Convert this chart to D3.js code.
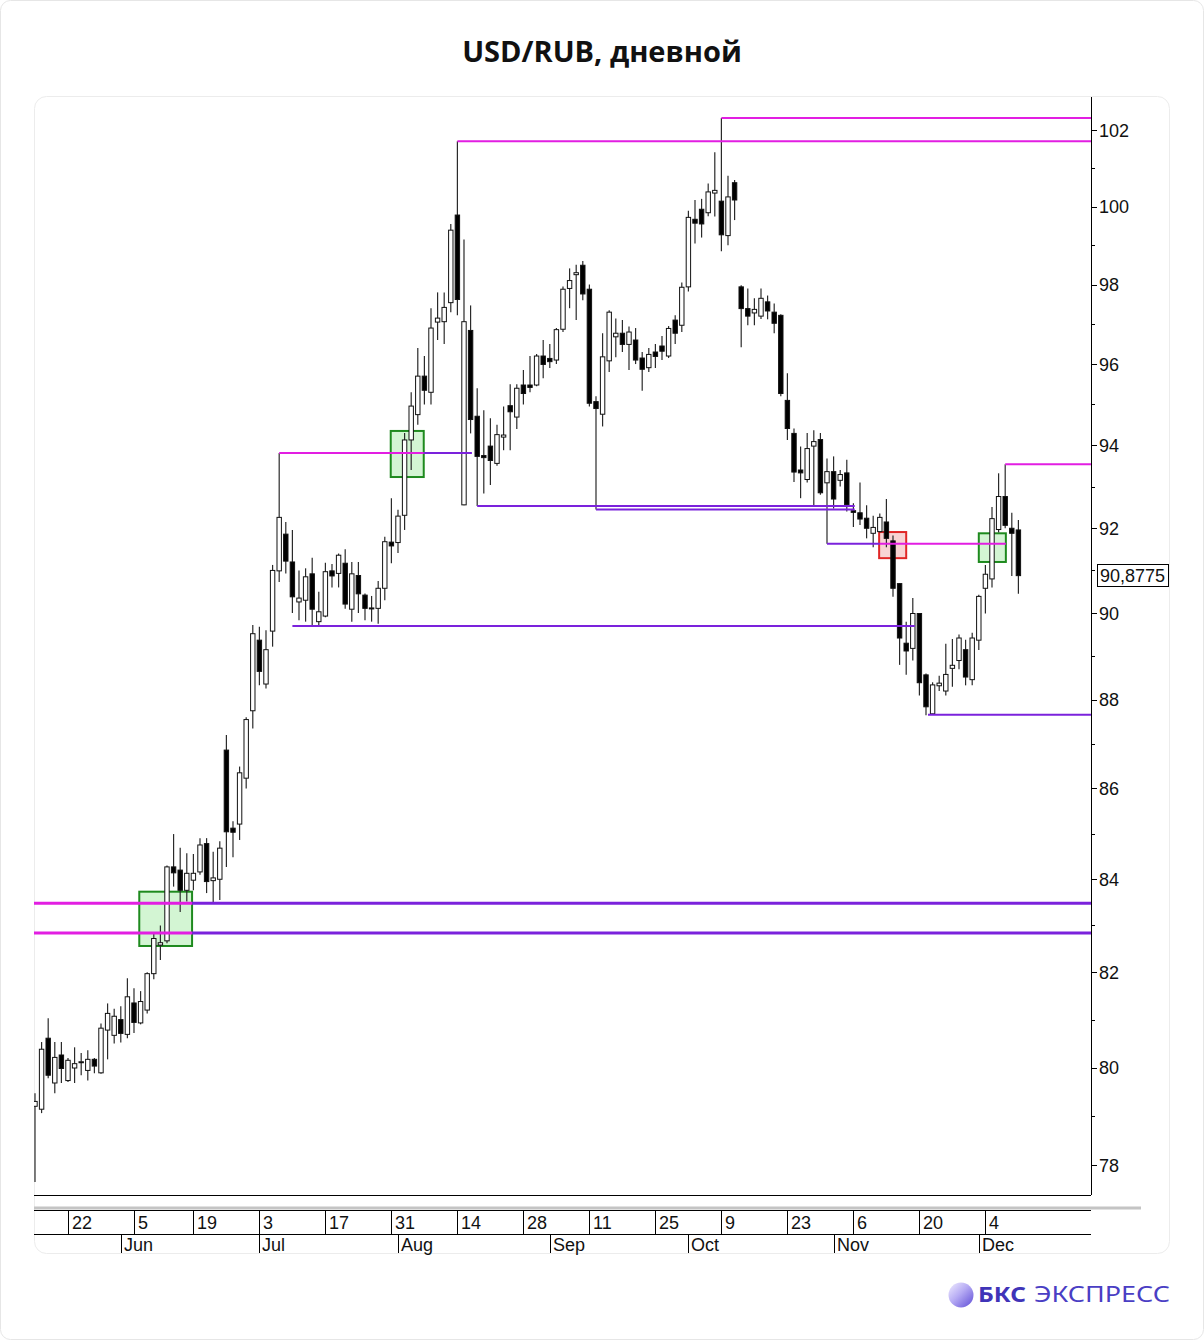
<!DOCTYPE html>
<html><head><meta charset="utf-8">
<script src="https://cdn.jsdelivr.net/npm/d3@7"></script>
<style>body{margin:0;background:#fff}svg{display:block}</style>
</head><body>
<script>
const title = "USD/RUB, дневной";
const startDate = "2023-05-15";
const holidays = ["2023-06-12"];
// [open, high, low, close] per trading day
const ohlc = [
[79.20,79.47,77.66,79.30],[79.14,80.53,79.06,80.38],[80.61,81.03,79.78,79.84],[79.68,80.53,79.47,80.21],[80.26,80.53,79.68,79.98],
[79.73,80.20,79.70,80.15],[79.99,80.42,79.68,80.08],[80.10,80.30,79.84,80.12],[79.94,80.36,79.73,80.17],[80.17,80.20,79.88,80.03],
[79.89,80.92,79.87,80.82],[80.78,81.34,80.17,81.13],[80.67,81.23,80.50,81.07],[81.00,81.28,80.52,80.71],[80.69,81.87,80.61,81.48],
[81.35,81.66,80.72,80.94],[80.93,81.60,80.90,81.38],[81.20,82.00,81.13,81.97],[81.97,82.83,81.85,82.72],[82.58,83.00,82.26,82.63],
[82.67,84.30,82.62,84.27],[84.27,84.99,83.84,84.14],[84.20,84.69,83.29,83.76],[83.76,84.57,83.52,84.13],[83.98,84.55,83.76,84.13],
[84.16,84.90,84.10,84.75],[84.78,84.90,83.70,83.95],[83.97,84.60,83.50,84.03],[84.00,84.83,83.55,84.68],[86.86,87.20,84.27,85.04],
[85.12,85.27,84.48,85.03],[85.21,86.49,84.86,86.35],[86.23,87.60,86.00,87.55],[87.75,89.72,87.35,89.52],[89.37,89.68,88.33,88.65],
[88.36,89.60,88.26,89.15],[89.58,91.13,89.22,91.00],[90.99,93.81,90.73,92.26],[91.86,92.15,90.93,91.22],[91.20,91.96,90.00,90.38],
[90.26,91.00,89.83,90.35],[90.30,91.05,89.80,90.85],[90.92,91.30,89.70,90.09],[89.80,90.50,89.70,90.03],[89.93,91.18,89.90,90.97],
[90.99,91.15,90.60,90.87],[90.93,91.40,90.60,91.36],[91.17,91.50,90.10,90.21],[90.09,91.20,89.80,90.92],[90.88,91.20,90.00,90.45],
[90.42,90.46,89.83,90.11],[90.10,90.40,89.80,90.12],[90.11,90.75,89.75,90.58],[90.58,91.80,90.30,91.68],[91.67,92.72,91.17,91.58],
[91.66,92.44,91.41,92.29],[92.31,94.30,91.96,94.13],[94.13,95.30,93.40,94.96],[94.75,96.40,94.50,95.70],[95.70,96.20,95.00,95.35],
[95.30,97.40,95.00,96.90],[97.05,97.80,96.60,97.15],[97.06,97.80,96.50,97.42],[97.54,99.55,97.30,99.39],[99.78,101.71,97.22,97.62],
[92.56,99.15,92.55,97.06],[96.84,97.47,94.29,94.63],[94.71,95.40,92.53,93.73],[93.75,94.86,92.83,93.70],[93.98,94.66,93.04,93.63],
[93.56,94.50,93.50,94.26],[94.20,94.95,93.88,94.25],[94.97,95.50,93.88,94.82],[94.69,95.50,94.40,95.40],[95.48,95.85,95.00,95.27],
[95.48,96.20,95.30,95.42],[95.48,96.25,95.45,96.20],[96.20,96.60,95.65,95.99],[96.14,96.50,95.90,96.06],[96.10,96.90,96.00,96.86],
[96.87,97.95,96.80,97.88],[97.90,98.41,97.40,98.10],[98.25,98.50,97.10,98.30],[98.49,98.60,97.60,97.76],[97.88,98.00,94.95,95.03],
[95.07,95.20,92.45,94.90],[94.76,96.77,94.46,96.18],[96.08,97.35,95.80,97.30],[96.68,97.14,96.17,96.77],[96.77,97.10,96.30,96.49],
[96.49,96.94,95.85,96.80],[96.60,96.90,96.00,96.10],[96.15,96.30,95.34,95.87],[95.91,96.40,95.80,96.24],[96.30,96.50,95.90,96.19],
[96.45,96.70,96.10,96.32],[96.20,96.95,96.15,96.89],[97.10,97.22,96.50,96.77],[96.97,98.05,96.80,97.93],[97.94,99.89,97.82,99.72],
[99.67,100.17,99.05,99.57],[99.93,100.20,99.20,99.55],[99.84,100.60,99.75,100.38],[100.35,101.42,99.74,100.42],[100.14,102.32,98.85,99.27],
[99.25,100.80,99.00,100.25],[100.62,100.69,99.65,100.17],[97.94,97.98,96.42,97.39],[97.39,97.90,96.97,97.20],[97.28,97.65,96.97,97.37],
[97.20,97.90,97.13,97.65],[97.56,97.72,97.12,97.33],[97.30,97.52,96.77,97.02],[97.22,97.25,95.20,95.27],[95.10,95.77,94.13,94.41],
[94.29,94.41,93.11,93.35],[93.40,93.97,92.72,93.33],[93.17,94.30,93.10,93.92],[93.98,94.37,92.53,94.09],[94.14,94.30,92.80,92.85],
[93.09,93.68,91.63,93.36],[93.36,93.73,92.47,92.70],[93.15,93.40,93.00,93.29],[93.33,93.65,92.40,92.56],[92.42,92.60,92.03,92.38],
[92.37,93.10,92.08,92.22],[92.24,92.55,91.76,92.00],[91.88,92.30,91.55,92.02],[91.92,92.35,91.90,92.26],[92.15,92.70,91.55,91.76],
[91.70,91.83,90.38,90.58],[90.69,90.70,88.80,89.42],[89.30,89.80,88.57,89.12],[89.18,90.35,88.90,89.99],[89.99,90.00,88.10,88.39],
[88.57,88.60,87.65,87.84],[87.68,88.40,87.66,88.34],[88.32,88.55,88.20,88.38],[88.20,89.29,88.10,88.58],[88.72,89.40,88.30,88.79],
[88.90,89.50,88.70,89.42],[89.15,89.38,88.33,88.52],[88.46,89.54,88.33,89.42],[89.37,90.43,89.14,90.39],[90.58,91.13,89.99,90.91],
[90.80,92.51,90.60,92.23],[91.97,93.32,91.90,92.76],[92.76,93.54,92.00,92.07],[92.00,92.37,90.87,91.88],[91.96,92.20,90.45,90.8775]
];
const lastPriceLabel = "90,8775";
const yTickValues = [78,80,82,84,86,88,90,92,94,96,98,100,102];
const yMinorValues = [77,79,81,83,85,87,89,91,93,95,97,99,101,103];
const weekLabelDates = ["2023-05-22","2023-06-05","2023-06-19","2023-07-03","2023-07-17","2023-07-31","2023-08-14","2023-08-28","2023-09-11","2023-09-25","2023-10-09","2023-10-23","2023-11-06","2023-11-20","2023-12-04"];
const monthNames = ["Jan","Feb","Mar","Apr","May","Jun","Jul","Aug","Sep","Oct","Nov","Dec"];
// horizontal levels: [value, fromBar, toBar, kind]  kind: "res" magenta / "sup" violet
const heavyLevels = [
 [83.48,-0.15,23.8,"res"],[83.48,23.8,160,"sup"],
 [82.84,-0.15,23.8,"res"],[82.84,23.8,160,"sup"]
];
const levels = [
 [93.81,37,58.9,"res"],[93.81,58.9,66.2,"sup"],
 [101.71,64,160,"res"],
 [102.32,104,160,"res"],
 [92.53,67,124.2,"sup"],
 [92.45,85,124.2,"sup"],
 [89.70,39,133.3,"sup"],
 [91.63,120,128,"sup"],[91.63,128,147.1,"res"],
 [87.66,135.3,160,"sup"],
 [93.54,147,160,"res"]
];
// signal boxes: [fromBar, toBar, low, high, kind]
const boxes = [
 [15.8,23.8,82.56,83.73,"buy"],
 [53.9,58.9,93.23,94.35,"buy"],
 [127.9,132.0,91.29,91.91,"sell"],
 [143.0,147.1,91.20,91.88,"buy"]
];

function tradingDays(start, n, hol){
  const out=[]; const d=new Date(start+"T00:00:00Z");
  while(out.length<n){
    const dow=d.getUTCDay(), iso=d.toISOString().slice(0,10);
    if(dow!==0&&dow!==6&&!hol.includes(iso)) out.push(iso);
    d.setUTCDate(d.getUTCDate()+1);
  }
  return out;
}
const dates = tradingDays(startDate, ohlc.length, holidays);

const W=1204,H=1340;
const P={left:34,right:1091,top:97,bottom:1195};
const svg=d3.select("body").append("svg").attr("width",W).attr("height",H);
const axisFont="'Liberation Sans', Arial, sans-serif";

svg.append("rect").attr("x",0.5).attr("y",0.5).attr("width",W-1).attr("height",H-1).attr("rx",10)
  .attr("fill","#fff").attr("stroke","#e6e6e6");
svg.append("rect").attr("x",34.5).attr("y",96.5).attr("width",1135).attr("height",1157).attr("rx",12)
  .attr("fill","none").attr("stroke","#ececec");

svg.append("text").attr("x",602).attr("y",62).attr("text-anchor","middle")
  .attr("font-family","'Open Sans', 'Noto Sans', sans-serif").attr("font-weight",700).attr("font-size",29)
  .attr("fill","#111").text(title);

const x=d3.scaleLinear().domain([-0.15,160]).range([P.left,P.right]);
const y=d3.scaleLog().domain([77.4,102.88]).range([P.bottom,P.top]);

svg.append("defs").append("clipPath").attr("id","plotclip").append("rect")
  .attr("x",P.left).attr("y",P.top).attr("width",P.right-P.left).attr("height",P.bottom-P.top);
const g=svg.append("g").attr("clip-path","url(#plotclip)");

const boxStyle={buy:{fill:"#d3f5d3",stroke:"#1e8a1e"},sell:{fill:"#f8d3d3",stroke:"#e02626"}};
g.selectAll("rect.box").data(boxes).join("rect").attr("class","box")
  .attr("x",d=>x(d[0])).attr("y",d=>y(d[3])).attr("width",d=>x(d[1])-x(d[0])).attr("height",d=>y(d[2])-y(d[3]))
  .attr("fill",d=>boxStyle[d[4]].fill).attr("stroke",d=>boxStyle[d[4]].stroke).attr("stroke-width",2);

// candles
const bw=4.4;
const cg=g.append("g");
cg.selectAll("line.wick").data(ohlc).join("line").attr("class","wick")
  .attr("x1",(d,i)=>x(i)).attr("x2",(d,i)=>x(i)).attr("y1",d=>y(d[1])).attr("y2",d=>y(d[2]))
  .attr("stroke","#2a2a2a").attr("stroke-width",1.2);
cg.selectAll("rect.body").data(ohlc).join("rect").attr("class","body")
  .attr("x",(d,i)=>x(i)-bw/2).attr("width",bw)
  .attr("y",d=>y(Math.max(d[0],d[3])))
  .attr("height",d=>Math.max(1,Math.abs(y(d[0])-y(d[3]))))
  .attr("fill",d=>d[3]<d[0]?"#000":"#fff").attr("stroke","#111").attr("stroke-width",1);

const levelColor={res:"#e21ee2",sup:"#7b22dc"};
g.selectAll("line.lvl").data(levels).join("line").attr("class","lvl")
  .attr("x1",d=>x(d[1])).attr("x2",d=>x(d[2])).attr("y1",d=>y(d[0])).attr("y2",d=>y(d[0]))
  .attr("stroke",d=>levelColor[d[3]]).attr("stroke-width",2);
g.selectAll("line.hlvl").data(heavyLevels).join("line").attr("class","hlvl")
  .attr("x1",d=>x(d[1])).attr("x2",d=>x(d[2])).attr("y1",d=>y(d[0])).attr("y2",d=>y(d[0]))
  .attr("stroke",d=>levelColor[d[3]]).attr("stroke-width",3);

// right axis
const ax=svg.append("g");
ax.append("line").attr("x1",P.right+0.5).attr("x2",P.right+0.5).attr("y1",P.top).attr("y2",P.bottom).attr("stroke","#000");
ax.selectAll("line.maj").data(yTickValues).join("line").attr("class","maj")
  .attr("x1",P.right).attr("x2",P.right+6).attr("y1",d=>Math.round(y(d))+0.5).attr("y2",d=>Math.round(y(d))+0.5).attr("stroke","#000");
ax.selectAll("line.min").data(yMinorValues.filter(v=>y(v)>=P.top&&y(v)<=P.bottom)).join("line").attr("class","min")
  .attr("x1",P.right).attr("x2",P.right+4).attr("y1",d=>Math.round(y(d))+0.5).attr("y2",d=>Math.round(y(d))+0.5).attr("stroke","#000");
ax.selectAll("text.yl").data(yTickValues).join("text").attr("class","yl")
  .attr("x",P.right+8).attr("y",d=>y(d)).attr("dy","0.36em")
  .attr("font-family",axisFont).attr("font-size",18).attr("fill","#111").text(d=>d);

// last price box
const lp=ohlc[ohlc.length-1][3];
svg.append("rect").attr("x",1097.5).attr("y",Math.round(y(lp))-11.5).attr("width",71).attr("height",22)
  .attr("fill","#fff").attr("stroke","#000");
svg.append("text").attr("x",1100).attr("y",y(lp)).attr("dy","0.36em")
  .attr("font-family",axisFont).attr("font-size",18).attr("fill","#111").text(lastPriceLabel);

// bottom axis
const bx=svg.append("g");
bx.append("line").attr("x1",P.left).attr("x2",P.right).attr("y1",P.bottom+0.5).attr("y2",P.bottom+0.5).attr("stroke","#000");
bx.append("line").attr("x1",P.left).attr("x2",1141).attr("y1",1208).attr("y2",1208).attr("stroke","#c4c4c4").attr("stroke-width",3);
bx.append("line").attr("x1",P.left).attr("x2",P.right).attr("y1",1210.5).attr("y2",1210.5).attr("stroke","#000");
bx.append("line").attr("x1",P.left).attr("x2",P.right).attr("y1",1234.5).attr("y2",1234.5).attr("stroke","#000");
const weekIdx=weekLabelDates.map(s=>dates.indexOf(s)).filter(i=>i>=0);
bx.selectAll("line.wk").data(weekIdx).join("line").attr("class","wk")
  .attr("x1",i=>Math.round(x(i))+0.5).attr("x2",i=>Math.round(x(i))+0.5).attr("y1",1210).attr("y2",1234).attr("stroke","#000");
bx.selectAll("text.wk").data(weekIdx).join("text").attr("class","wk")
  .attr("x",i=>Math.round(x(i))+4).attr("y",1229)
  .attr("font-family",axisFont).attr("font-size",18).attr("fill","#111").text(i=>String(+dates[i].slice(8,10)));
const monthIdx=dates.map((s,i)=>i).filter(i=>i>0&&dates[i].slice(5,7)!==dates[i-1].slice(5,7));
bx.selectAll("line.mo").data(monthIdx).join("line").attr("class","mo")
  .attr("x1",i=>Math.round(x(i))+0.5).attr("x2",i=>Math.round(x(i))+0.5).attr("y1",1234).attr("y2",1253).attr("stroke","#000");
bx.selectAll("text.mo").data(monthIdx).join("text").attr("class","mo")
  .attr("x",i=>Math.round(x(i))+3).attr("y",1251)
  .attr("font-family",axisFont).attr("font-size",18).attr("fill","#111").text(i=>monthNames[+dates[i].slice(5,7)-1]);

// logo
const grad=svg.select("defs").append("linearGradient").attr("id","lg").attr("x1","0").attr("y1","0").attr("x2","1").attr("y2","1");
grad.append("stop").attr("offset","0").attr("stop-color","#f1eeff");
grad.append("stop").attr("offset","0.45").attr("stop-color","#b7acf4");
grad.append("stop").attr("offset","1").attr("stop-color","#5d4bd6");
svg.append("circle").attr("cx",961).attr("cy",1295).attr("r",12.5).attr("fill","url(#lg)");
svg.append("text").attr("x",978).attr("y",1302).attr("font-family","'Noto Sans', sans-serif").attr("font-weight",700)
  .attr("font-size",22).attr("fill","#4034b8").attr("textLength",48).attr("lengthAdjust","spacingAndGlyphs").text("БКС");
svg.append("text").attr("x",1034).attr("y",1302).attr("font-family","'Noto Sans', sans-serif").attr("font-weight",400)
  .attr("font-size",22).attr("fill","#4a3ec4").attr("textLength",136).attr("lengthAdjust","spacingAndGlyphs").text("ЭКСПРЕСС");
</script>
</body></html>
